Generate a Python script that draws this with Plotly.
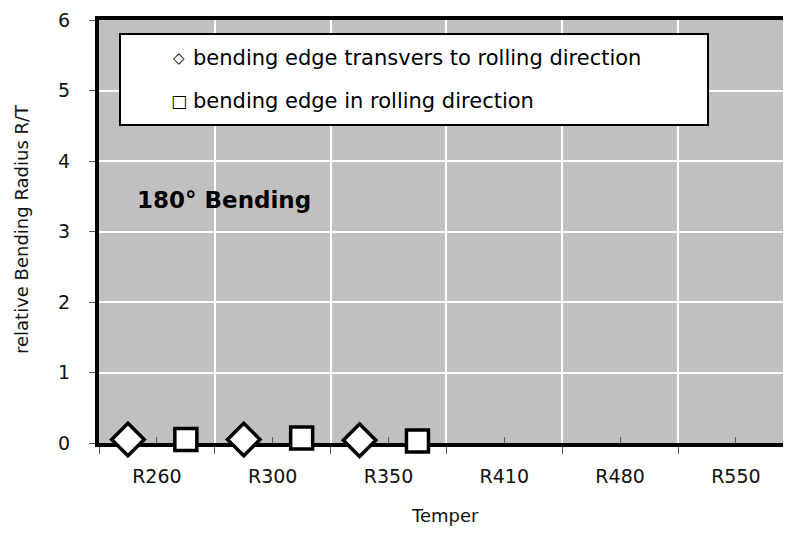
import plotly.graph_objects as go

categories = ["R260", "R300", "R350", "R410", "R480", "R550"]
transverse = [0.05, 0.05, 0.04, None, None, None]
rolling = [0.05, 0.07, 0.03, None, None, None]
yticks = [0, 1, 2, 3, 4, 5, 6]

FONT = "DejaVu Sans"
OFF = 8                      # default page margin of the html body
W, H = 791 - 2 * OFF, 537 - 2 * OFF
L, T = 99 - OFF, 20 - OFF
R = 0
B = H - (443 - OFF)
PW, PH = W - L - R, H - T - B
CAT_PX = 115.8               # width of one category in pixels


def fx(px):
    return (px - OFF - L) / PW


def fy(py):
    return 1 - (py - OFF - T) / PH


fig = go.Figure()
fig.add_trace(go.Scatter(
    x=categories, y=transverse, mode="markers", offsetgroup="a", cliponaxis=False,
    name="bending edge transvers to rolling direction", showlegend=False,
    marker=dict(symbol="diamond", size=25, color="white", line=dict(color="black", width=3.5))))
fig.add_trace(go.Scatter(
    x=categories, y=rolling, mode="markers", offsetgroup="b", cliponaxis=False,
    name="bending edge in rolling direction", showlegend=False,
    marker=dict(symbol="square", size=22, color="white", line=dict(color="black", width=3.5))))
# helper trace carrying the minor (centre) tick axis
fig.add_trace(go.Scatter(x=categories, y=[0] * len(categories), xaxis="x2", mode="markers",
                         marker=dict(opacity=0), hoverinfo="skip", showlegend=False))

xr = [-0.5, -0.5 + PW / CAT_PX]
fig.update_layout(
    width=W, height=H,
    margin=dict(l=L, r=R, t=T, b=B, autoexpand=False),
    paper_bgcolor="white", plot_bgcolor="#c0c0c0",
    scattermode="group", scattergap=0,
    font=dict(family=FONT, size=18, color="#111"),
    xaxis=dict(type="category", categoryorder="array", categoryarray=categories, range=xr,
               automargin=False,
               tickson="boundaries", ticks="outside", ticklen=7, tickwidth=1, tickcolor="#555",
               showgrid=True, gridcolor="white", gridwidth=2,
               showline=True, linecolor="black", linewidth=4, mirror=True, layer="below traces",
               ticklabelstandoff=13, tickfont=dict(size=19, color="#111")),
    xaxis2=dict(type="category", categoryorder="array", categoryarray=categories, range=xr,
                automargin=False,
                overlaying="x", anchor="y", side="bottom", ticks="inside", ticklen=6, tickwidth=1,
                tickcolor="#555", showticklabels=False, showgrid=False, showline=False, zeroline=False),
    yaxis=dict(range=[0, 6], tickvals=yticks, ticks="outside", ticklen=6, tickwidth=1, tickcolor="#555",
               automargin=False, ticklabeloverflow="allow",
               showgrid=True, gridcolor="white", gridwidth=2, zeroline=False,
               showline=True, linecolor="black", linewidth=4, mirror=False, layer="below traces",
               ticklabelstandoff=15, tickfont=dict(size=19, color="#111")),
)

# axis titles
fig.add_annotation(xref="paper", yref="paper", x=fx(22), y=fy(229), textangle=-90,
                   xanchor="center", yanchor="middle", showarrow=False,
                   text="relative Bending Radius R/T", font=dict(family=FONT, size=18, color="#111"))
fig.add_annotation(xref="paper", yref="paper", x=fx(445), y=fy(516),
                   xanchor="center", yanchor="middle", showarrow=False,
                   text="Temper", font=dict(family=FONT, size=18, color="#111"))

# legend box
fig.add_shape(type="rect", xref="paper", yref="paper",
              x0=fx(120), x1=fx(708), y0=fy(125), y1=fy(34),
              fillcolor="white", line=dict(color="black", width=2), layer="above")
legend_items = [("◇", 15, "bending edge transvers to rolling direction", 58),
                ("□", 17, "bending edge in rolling direction", 101)]
for sym, ssize, txt, yc in legend_items:
    fig.add_annotation(xref="paper", yref="paper", x=fx(179), y=fy(yc),
                       xanchor="center", yanchor="middle", showarrow=False,
                       text=sym, font=dict(family=FONT, size=ssize, color="black"))
    fig.add_annotation(xref="paper", yref="paper", x=fx(191), y=fy(yc),
                       xanchor="left", yanchor="middle", showarrow=False,
                       text=txt, font=dict(family=FONT, size=21, color="black"))

fig.add_annotation(xref="paper", yref="paper", x=fx(135), y=fy(200),
                   xanchor="left", yanchor="middle", showarrow=False,
                   text="<b>180° Bending</b>", font=dict(family=FONT, size=23, color="black"))

fig.write_html("out.html")
